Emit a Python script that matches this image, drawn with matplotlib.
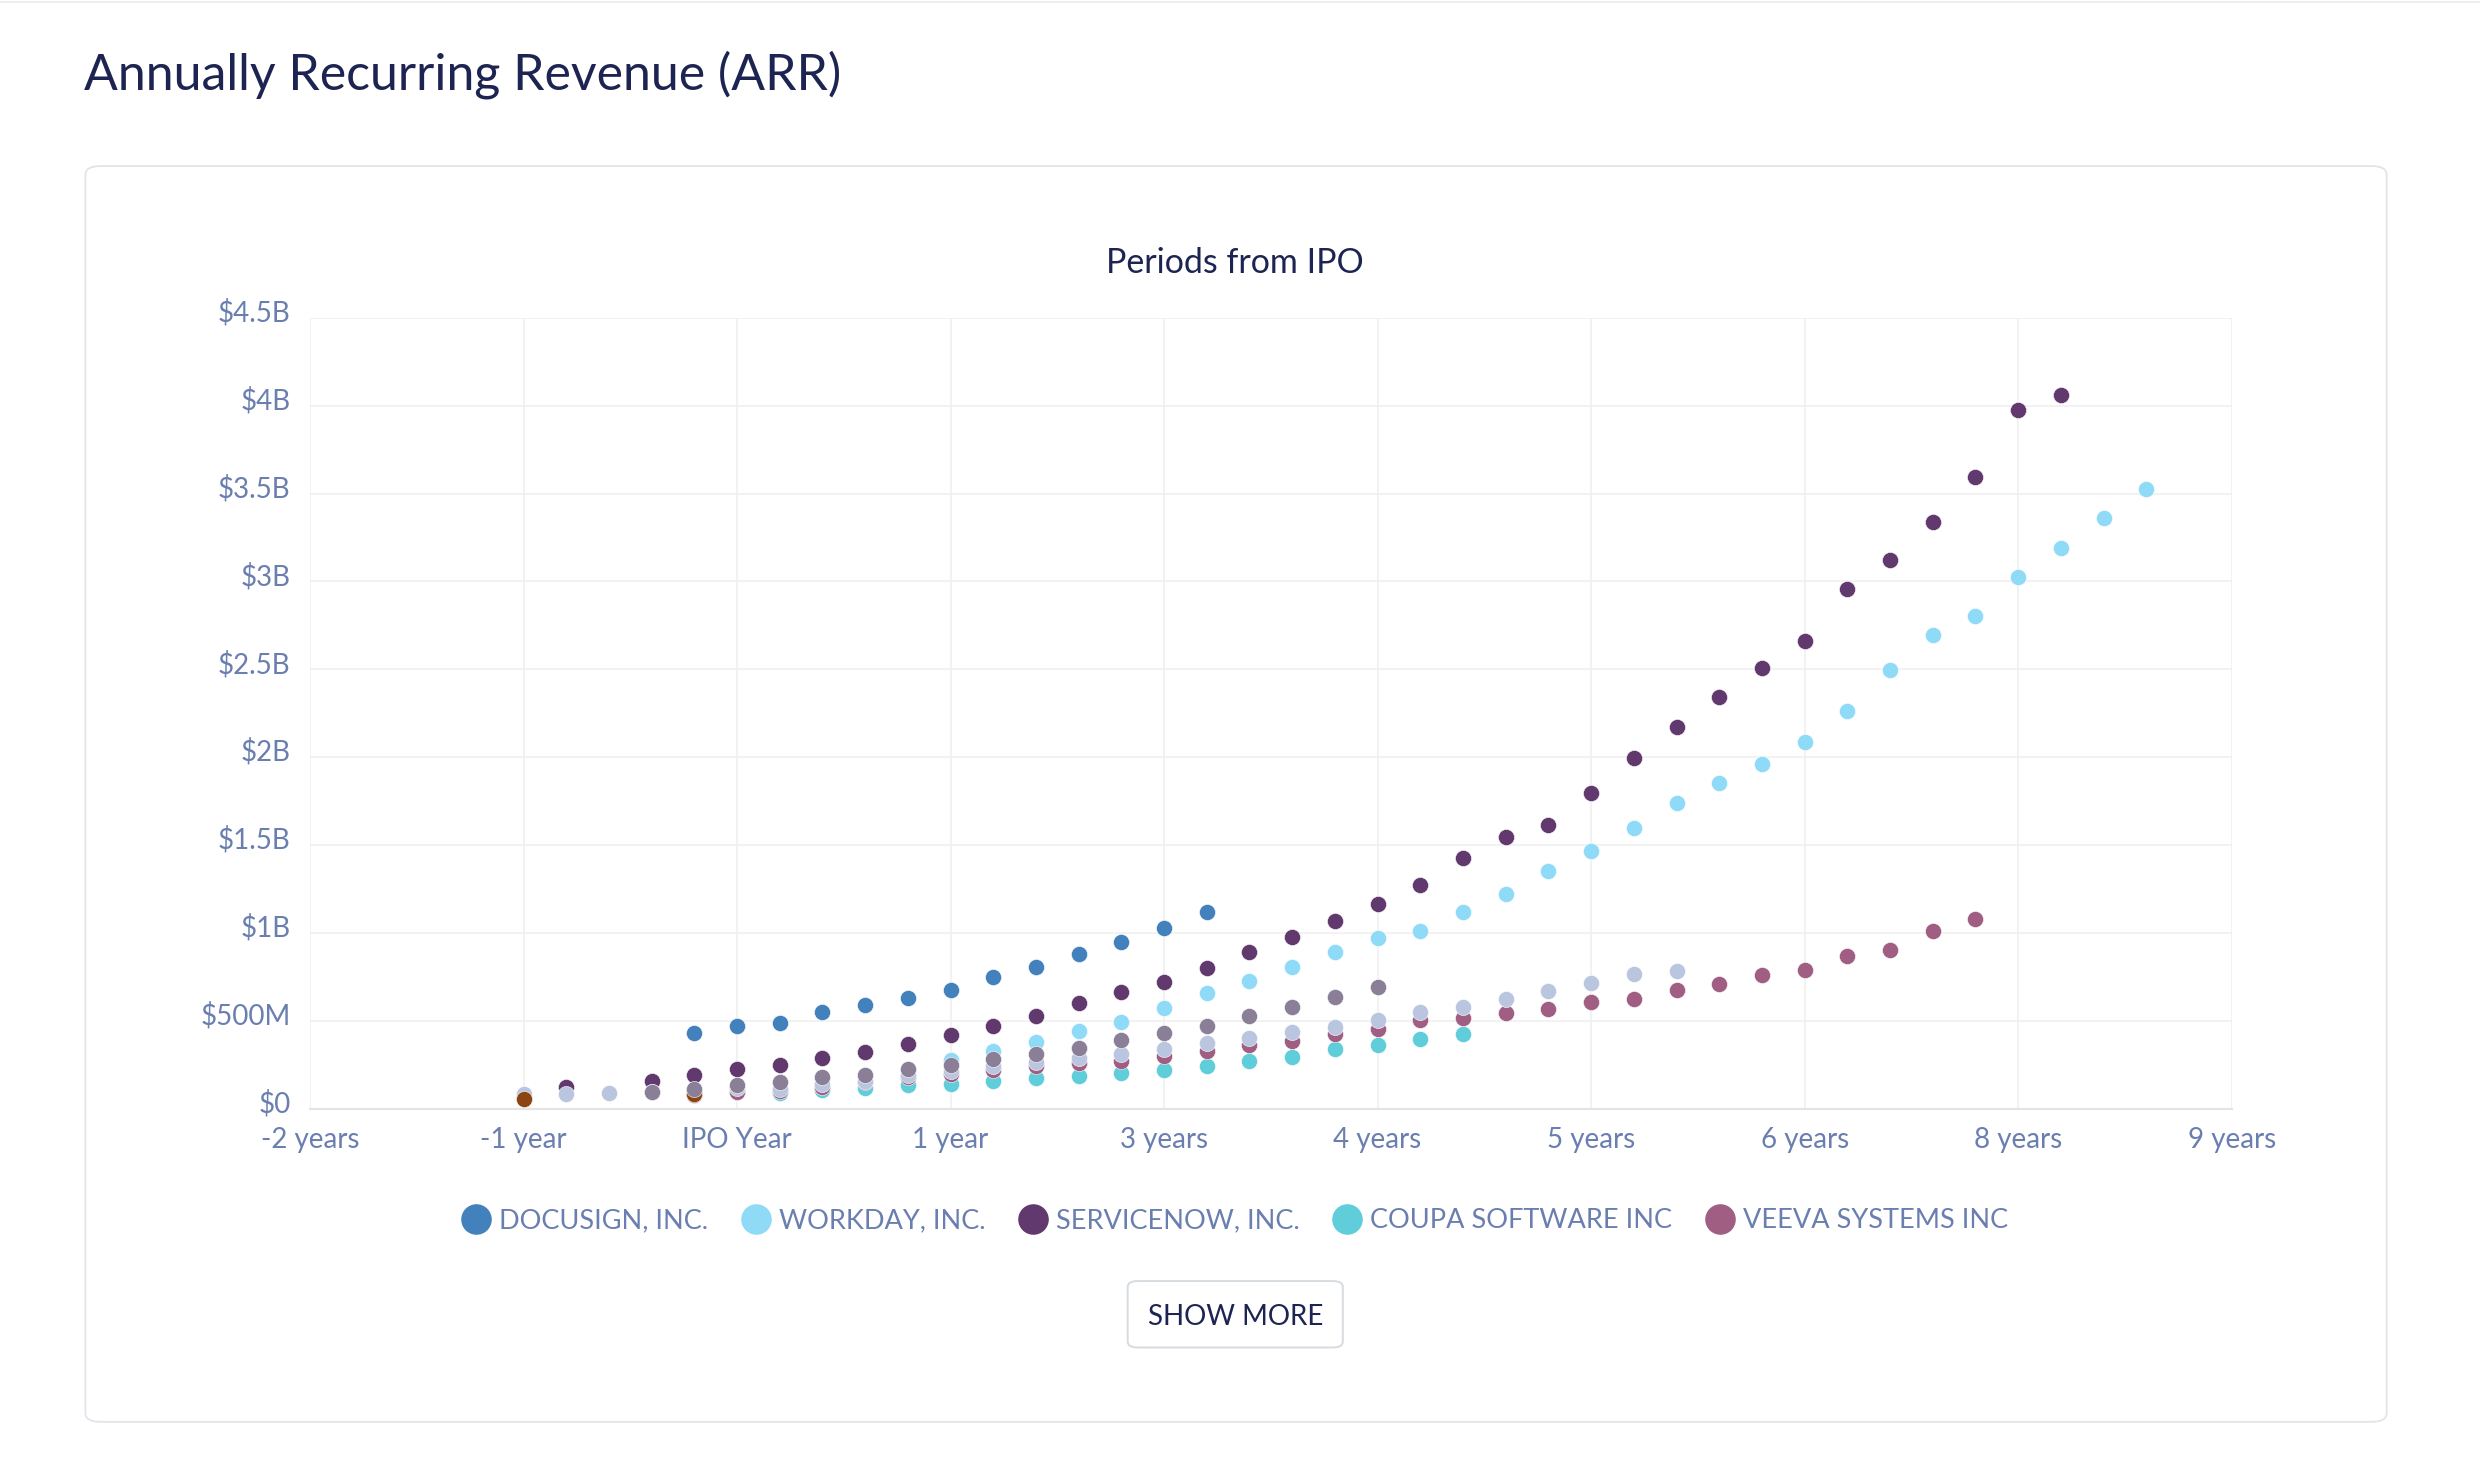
import matplotlib
matplotlib.use("Agg")
import matplotlib.pyplot as plt
import matplotlib.transforms as mtransforms
from matplotlib.patches import FancyBboxPatch
from matplotlib.lines import Line2D

plt.rcParams["font.family"] = ["Lato", "DejaVu Sans"]

# periods from IPO (quarters, 0 = IPO quarter) and ARR in $M
docusign_x = list(range(-1, 12))
docusign_y = [430, 470, 488, 548, 592, 632, 675, 748, 805, 880, 950, 1030, 1120]

workday_x = list(range(5, 34))
workday_y = [276, 330, 380, 441, 492, 574, 656, 726, 804, 893, 970, 1010, 1120,
             1222, 1352, 1466, 1598, 1738, 1854, 1960, 2088, 2261, 2497, 2694,
             2804, 3028, 3192, 3359, 3528]

servicenow_x = [-4] + list(range(-2, 32))
servicenow_y = [126, 160, 189, 223, 251, 287, 321, 368, 419, 468, 528, 601, 665,
                719, 802, 892, 979, 1070, 1162, 1274, 1428, 1548, 1612, 1797,
                1998, 2173, 2340, 2505, 2664, 2959, 3123, 3339, 3595, 3978, 4061]

coupa_x = list(range(1, 18))
coupa_y = [91, 104, 117, 132, 142, 156, 173, 186, 201, 222, 243, 272, 293, 337,
           363, 397, 426]

veeva_x = list(range(-1, 30))
veeva_y = [75, 96, 100, 123, 151, 179, 198, 222, 243, 260, 274, 297, 331, 361,
           386, 424, 452, 505, 516, 542, 570, 607, 623, 675, 711, 758, 791, 867,
           903, 1010, 1080]

other_a_x = list(range(-5, 23))
other_a_y = [85, 81, 91, 96, 104, 118, 113, 142, 160, 193, 217, 241, 266, 289,
             310, 340, 373, 405, 434, 464, 502, 548, 576, 623, 667, 715, 764, 785]

other_b_x = [-5, -1]
other_b_y = [53, 81]

other_c_x = list(range(-2, 16))
other_c_y = [94, 113, 136, 151, 183, 193, 223, 249, 284, 310, 348, 390, 431, 468,
             528, 576, 633, 694]

names = ["DOCUSIGN, INC.", "WORKDAY, INC.", "SERVICENOW, INC.",
         "COUPA SOFTWARE INC", "VEEVA SYSTEMS INC"]
colors = ["#4381bc", "#8fdaf6", "#61396f", "#5fcdda", "#9f5e82"]
other_colors = ["#bac6df", "#8b4513", "#8a7f96"]

x_ticks = [-10, -5, 0, 5, 10, 15, 20, 25, 30, 35]
x_labels = ["-2 years", "-1 year", "IPO Year", "1 year", "3 years", "4 years",
            "5 years", "6 years", "8 years", "9 years"]
y_ticks = [0, 500, 1000, 1500, 2000, 2500, 3000, 3500, 4000, 4500]
y_labels = ["$0", "$500M", "$1B", "$1.5B", "$2B", "$2.5B", "$3B", "$3.5B",
            "$4B", "$4.5B"]

W, H = 1568.0, 924.4
def fx(v):
    return v / W
def fy(v):
    return 1 - v / H

navy = "#1d2451"
tick_col = "#6a7eb0"

fig = plt.figure(figsize=(24.8, 14.62), dpi=100)

# page chrome
fig.add_artist(Line2D([0, 1], [fy(1), fy(1)], color="#eceff2", lw=1.5))
card = FancyBboxPatch((fx(54), fy(899)), fx(1509) - fx(54), fy(105) - fy(899),
                      boxstyle="round,pad=0,rounding_size=0.006",
                      transform=fig.transFigure, fc="white", ec="#e1e5ea", lw=1.3,
                      zorder=-1)
fig.add_artist(card)
fig.text(fx(53), fy(47), "Annually Recurring Revenue (ARR)", fontsize=36,
         color=navy, va="center", ha="left")
fig.text(fx(781), fy(166), "Periods from IPO", fontsize=24.5, color=navy,
         va="center", ha="center")

ax = fig.add_axes([fx(196), fy(701), fx(1411) - fx(196), fy(201) - fy(701)])
ax.patch.set_alpha(0)

series = [(docusign_x, docusign_y, colors[0]), (workday_x, workday_y, colors[1]),
          (servicenow_x, servicenow_y, colors[2]), (coupa_x, coupa_y, colors[3]),
          (veeva_x, veeva_y, colors[4]), (other_a_x, other_a_y, other_colors[0]),
          (other_b_x, other_b_y, other_colors[1]), (other_c_x, other_c_y, other_colors[2])]
for i, (xs, ys, c) in enumerate(series):
    ax.scatter(xs, ys, s=135, color=c, edgecolors="white", linewidths=0.4,
               zorder=3 + i, clip_on=False)

ax.set_xlim(-10, 35)
ax.set_ylim(0, 4500)
ax.set_xticks(x_ticks)
ax.set_xticklabels(x_labels)
ax.set_yticks(y_ticks)
ax.set_yticklabels(y_labels)
ax.tick_params(length=0, labelsize=20, colors=tick_col)
ax.tick_params(axis="y", pad=14)
ax.tick_params(axis="x", pad=13)
# y labels sit a little above their grid lines
shift = mtransforms.ScaledTranslation(0, 0.075, fig.dpi_scale_trans)
for lab in ax.get_yticklabels():
    lab.set_transform(lab.get_transform() + shift)
ax.grid(True, color="#efefef", lw=1.1, zorder=0)
ax.set_axisbelow(True)
for s in ["top", "right", "left"]:
    ax.spines[s].set_visible(False)
ax.spines["bottom"].set_color("#e4e4e4")
ax.spines["bottom"].set_linewidth(1.6)

handles = [Line2D([], [], marker="o", ls="", markersize=21, color=c) for c in colors]
leg = fig.legend(handles, names, loc="center", bbox_to_anchor=(fx(781), fy(772)),
                 ncol=5, frameon=False, fontsize=19.5, handlelength=1.0,
                 handletextpad=0.35, columnspacing=1.25, labelcolor=tick_col)

# show more button
btn = FancyBboxPatch((fx(713), fy(852)), fx(849) - fx(713), fy(810) - fy(852),
                     boxstyle="round,pad=0,rounding_size=0.004",
                     transform=fig.transFigure, fc="white", ec="#d6dbe0", lw=1.4)
fig.add_artist(btn)
fig.text(fx(781), fy(833), "SHOW MORE", fontsize=20, color=navy,
         va="center", ha="center")

fig.savefig("out.png", dpi=100)
